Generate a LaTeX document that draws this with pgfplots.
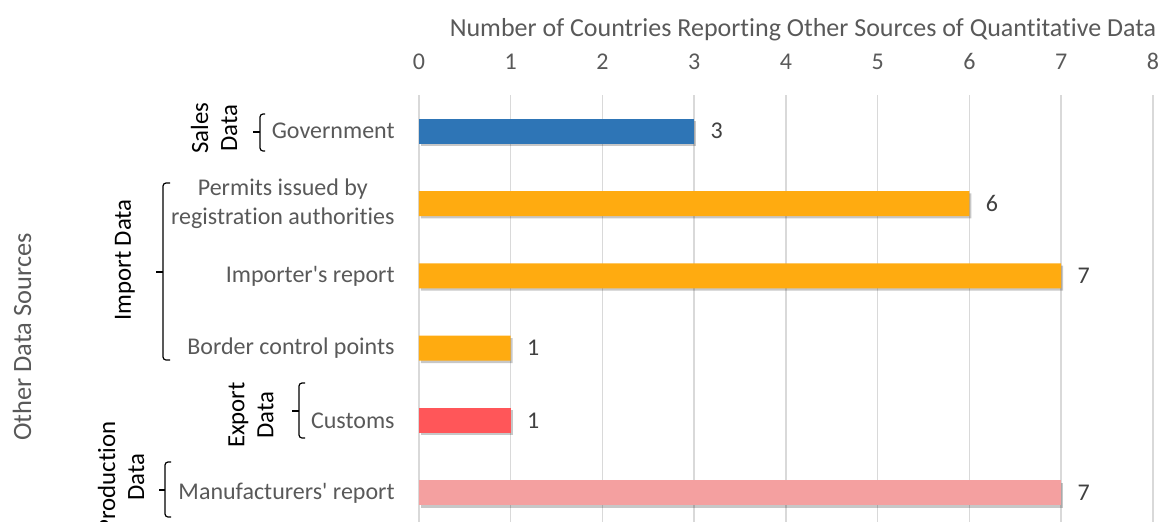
\documentclass[border=0pt]{standalone}
\usepackage{pgfplots}
\pgfplotsset{compat=1.18}
\usepackage{fontspec}
\setmainfont{Carlito}[Ligatures={TeXOff,NoCommon}]
\usetikzlibrary{shadows}
\definecolor{cblue}{HTML}{2E75B6}
\definecolor{corange}{HTML}{FFAB10}
\definecolor{cred}{HTML}{FF5659}
\definecolor{cpink}{HTML}{F4A0A0}
\definecolor{gridc}{HTML}{D9D9D9}
\definecolor{tgray}{HTML}{595959}
\definecolor{vgray}{HTML}{404040}
\begin{document}
\begin{tikzpicture}
\useasboundingbox (0pt,0pt) rectangle (581.5pt,-260.5pt);
\clip (0pt,0pt) rectangle (581.5pt,-260.5pt);
\begin{axis}[
  at={(209.5pt,-47.5pt)}, anchor=north west,
  scale only axis, width=367pt, height=217pt,
  xmin=0, xmax=8, ymin=-0.5, ymax=5.5, y dir=reverse,
  xtick={0,...,8}, ytick={0,...,5},
  yticklabels={Government,{Permits issued by\\registration authorities},Importer's report,Border control points,Customs,Manufacturers' report},
  xtick pos=upper, xticklabel pos=upper,
  axis line style={draw=none},
  major tick length=0pt,
  xmajorgrids, grid style={color=gridc, line width=0.75pt},
  /pgf/number format/assume math mode=true,
  xticklabel style={font=\fontsize{12}{14.5}\selectfont, text=tgray, inner sep=0pt, anchor=south, yshift=12.5pt},
  yticklabel style={font=\fontsize{12}{14.5}\selectfont, text=tgray, inner sep=0pt, anchor=east, align=center, xshift=-12pt},
  xbar, bar width=12.5pt, bar shift=0pt,
  every axis plot/.append style={draw=none, drop shadow={shadow xshift=1pt, shadow yshift=-1.2pt, opacity=0.22, fill=black}},
  nodes near coords,
  every node near coord/.append style={font=\fontsize{12}{14.5}\selectfont, text=vgray, inner sep=0pt, anchor=west, xshift=8pt},
]
\addplot[fill=cblue] coordinates {(3,0)};
\addplot[fill=corange] coordinates {(6,1) (7,2) (1,3)};
\addplot[fill=cred] coordinates {(1,4)};
\addplot[fill=cpink] coordinates {(7,5)};
\end{axis}
\begin{scope}[x=0.5pt,y=-0.5pt]
\node[font=\fontsize{13}{15}\selectfont, text=tgray] at (803,30) {Number of Countries Reporting Other Sources of Quantitative Data};
\node[font=\fontsize{13.2}{15}\selectfont, text=tgray, rotate=90] at (22,337) {Other Data Sources};
\begin{scope}[font=\fontsize{12.4}{14.5}\selectfont, every node/.style={rotate=90, align=center, inner sep=0pt}]
\node at (214,128) {Sales\\Data};
\node at (125,260) {Import Data};
\node at (251,415) {Export\\Data};
\node at (121,477) {Production\\Data};
\end{scope}
\begin{scope}[line width=0.6pt, black]
\draw[rounded corners=1.5pt] (265,114) -- (260,114) -- (260,151) -- (265,151);
\draw (260,132) -- (253,132);
\draw[rounded corners=1.5pt] (170,183) -- (163,183) -- (163,360) -- (170,360);
\draw (163,272) -- (156,272);
\draw[rounded corners=1.5pt] (305,383) -- (299,383) -- (299,438) -- (305,438);
\draw (299,411) -- (292,411);
\draw[rounded corners=1.5pt] (171,462) -- (165,462) -- (165,517) -- (171,517);
\draw (165,490) -- (159,490);
\end{scope}
\end{scope}
\end{tikzpicture}
\end{document}
